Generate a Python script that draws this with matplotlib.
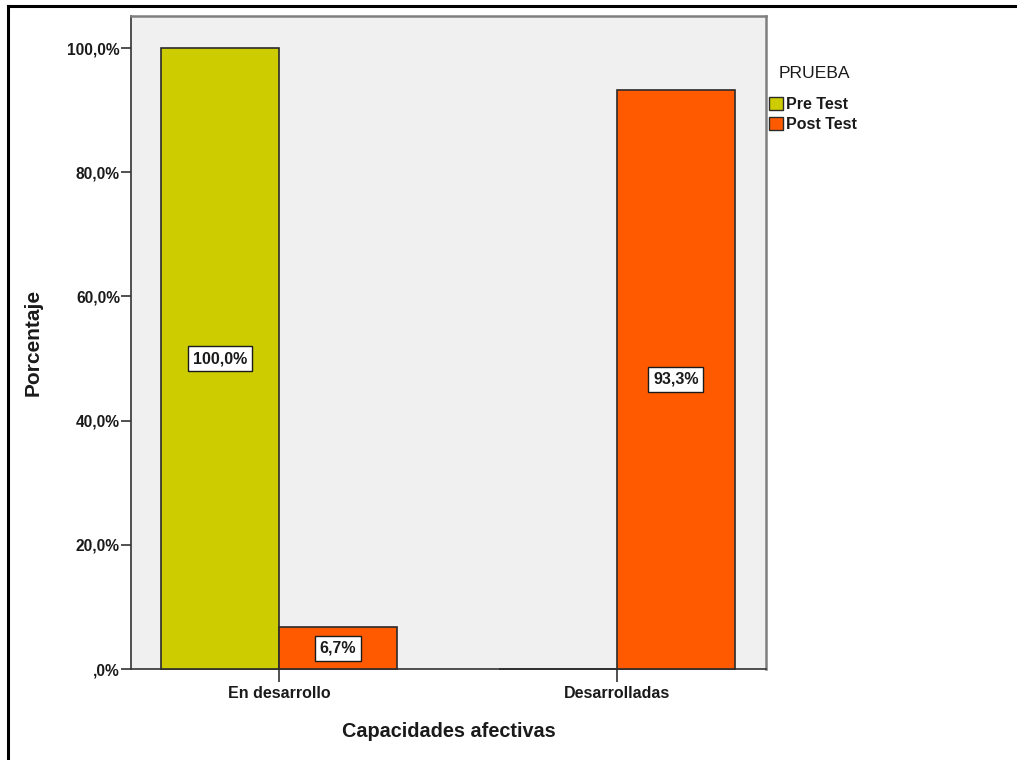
import matplotlib.pyplot as plt
from matplotlib.lines import Line2D
from matplotlib.patches import Patch
import numpy as np

plt.rcParams['font.family'] = ['Liberation Sans', 'DejaVu Sans']

categories = ['En desarrollo', 'Desarrolladas']
series_names = ['Pre Test', 'Post Test']
pre_test = [100.0, 0.0]
post_test = [6.7, 93.3]
y_ticks = [0, 20, 40, 60, 80, 100]
y_tick_labels = [',0%', '20,0%', '40,0%', '60,0%', '80,0%', '100,0%']

colors = ['#CCCC00', '#FF5A00']
bar_w = 0.349
ink = '#1a1a1a'

fig = plt.figure(figsize=(10.17, 7.6), dpi=100)
ax = fig.add_axes([0.1288, 0.1197, 0.6244, 0.8592])
ax.set_facecolor('#F0F0F0')

x = np.arange(len(categories))
for i, (vals, col) in enumerate(zip([pre_test, post_test], colors)):
    offset = (i - 0.5) * bar_w
    bars = ax.bar(x + offset, vals, width=bar_w, color=col,
                  edgecolor='#2b2b2b', linewidth=1.2, zorder=3, clip_on=False)
    for b, v in zip(bars, vals):
        if v <= 0:
            continue
        lbl = f'{v:.1f}%'.replace('.', ',')
        ax.text(b.get_x() + b.get_width() / 2, v / 2, lbl,
                ha='center', va='center', fontsize=11.5, fontweight='bold',
                color=ink, zorder=4,
                bbox=dict(boxstyle='square,pad=0.3', facecolor='white',
                          edgecolor=ink, linewidth=1.0))

ax.set_xlim(-0.438, 1.441)
ax.set_ylim(0, 105.15)
ax.set_xticks(x)
ax.set_xticklabels(categories, fontsize=11.5, fontweight='bold', color=ink)
ax.set_yticks(y_ticks)
ax.set_yticklabels(y_tick_labels, fontsize=11.2, fontweight='bold', color=ink)
ax.tick_params(axis='y', direction='out', length=7, width=1.2, color='#333333', pad=1)
ax.tick_params(axis='x', direction='out', length=9, width=1.2, color='#333333', pad=3)

for side in ['left', 'bottom']:
    ax.spines[side].set_color('#333333')
    ax.spines[side].set_linewidth(1.2)
for side in ['top', 'right']:
    ax.spines[side].set_color('#7f7f7f')
    ax.spines[side].set_linewidth(1.8)

ax.set_ylabel('Porcentaje', fontsize=15, fontweight='bold', color=ink)
ax.yaxis.set_label_coords(-0.1386, 0.5)
ax.set_xlabel('Capacidades afectivas', fontsize=14.3, fontweight='bold', color=ink)
ax.xaxis.set_label_coords(0.5, -0.095)
ax.xaxis.label.set_va('center')

# legend: title set slightly indented from the colour keys
fig.text(779 / 1017, 1 - 73 / 760, 'PRUEBA', fontsize=12.6, color=ink,
         ha='left', va='center')
handles = [Patch(facecolor=c, edgecolor='#2b2b2b', linewidth=1.0) for c in colors]
leg = fig.legend(handles, series_names, loc='upper left',
                 bbox_to_anchor=(0.745, 1 - 86 / 760), frameon=False,
                 prop={'size': 11.5, 'weight': 'bold'},
                 handlelength=0.9, handleheight=0.9, handletextpad=0.2,
                 labelspacing=0.28, borderpad=0.2)
for t in leg.get_texts():
    t.set_color(ink)

# outer frame lines along top and left edge
fig.add_artist(Line2D([8 / 1017, 1.0], [1 - 6 / 760, 1 - 6 / 760],
                      transform=fig.transFigure, color='black', linewidth=2.2))
fig.add_artist(Line2D([8 / 1017, 8 / 1017], [0.0, 1 - 6 / 760],
                      transform=fig.transFigure, color='black', linewidth=2.2))

fig.savefig('out.png', dpi=100)
